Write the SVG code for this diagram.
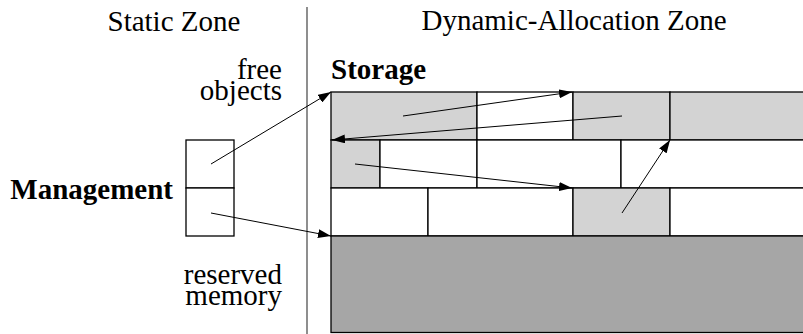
<svg xmlns="http://www.w3.org/2000/svg" width="803" height="334" viewBox="0 0 803 334">
  <style>
    text { font-family: 'Liberation Serif', 'Times New Roman', Times, serif; font-size: 29px; fill: #000; }
    .b { font-weight: bold; }
    .cell { stroke: #000; stroke-width: 1.3; }
    .light { fill: #d3d3d3; }
    .white { fill: #fff; }
    .dark { fill: #a6a6a6; }
    .conn { stroke: #000; stroke-width: 1; fill: none; marker-end: url(#head); }
  </style>
  <defs>
    <marker id="head" markerUnits="userSpaceOnUse" markerWidth="13" markerHeight="9" refX="13" refY="4.5" orient="auto">
      <path d="M0,0 L13,4.5 L0,9 Z" fill="#000"/>
    </marker>
  </defs>
  <rect width="803" height="334" fill="#fff"/>

  <!-- zone titles and separator -->
  <g id="zones">
    <text x="107.5" y="31">Static Zone</text>
    <text x="421.5" y="30">Dynamic-Allocation Zone</text>
    <line x1="307" y1="7" x2="307" y2="334" stroke="#444" stroke-width="1.2"/>
  </g>

  <!-- management block in the static zone -->
  <g id="management">
    <text class="b" x="173" y="198.5" text-anchor="end">Management</text>
    <rect class="cell white" x="186" y="140" width="48" height="48"/>
    <rect class="cell white" x="186" y="188" width="48" height="48"/>
  </g>

  <g id="label-free">
    <text text-anchor="end"><tspan x="282" y="78.5">free</tspan><tspan x="282" y="100">objects</tspan></text>
  </g>

  <g id="label-reserved">
    <text text-anchor="end"><tspan x="282" y="283.5">reserved</tspan><tspan x="282" y="305">memory</tspan></text>
  </g>

  <!-- storage area: three rows of blocks above the reserved region -->
  <g id="storage">
    <text class="b" x="331" y="78.5">Storage</text>
    <!-- row 1 -->
    <rect class="cell light" x="331" y="92" width="146" height="48"/>
    <rect class="cell white" x="477" y="92" width="96" height="48"/>
    <rect class="cell light" x="573" y="92" width="97" height="48"/>
    <rect class="cell light" x="670" y="92" width="145" height="48"/>
    <!-- row 2 -->
    <rect class="cell light" x="331" y="140" width="49" height="48"/>
    <rect class="cell white" x="380" y="140" width="97" height="48"/>
    <rect class="cell white" x="477" y="140" width="144" height="48"/>
    <rect class="cell white" x="621" y="140" width="194" height="48"/>
    <!-- row 3 -->
    <rect class="cell white" x="331" y="188" width="97" height="48"/>
    <rect class="cell white" x="428" y="188" width="145" height="48"/>
    <rect class="cell light" x="573" y="188" width="97" height="48"/>
    <rect class="cell white" x="670" y="188" width="145" height="48"/>
  </g>

  <g id="reserved-memory">
    <rect class="cell dark" x="331" y="236" width="484" height="96.5"/>
  </g>

  <!-- pointer connectors -->
  <g id="connectors">
    <line class="conn" x1="211" y1="164" x2="331" y2="92"/>
    <line class="conn" x1="211" y1="213" x2="331" y2="236"/>
    <line class="conn" x1="403" y1="116" x2="572" y2="92"/>
    <line class="conn" x1="622" y1="116" x2="332" y2="140"/>
    <line class="conn" x1="355" y1="164" x2="572" y2="188"/>
    <line class="conn" x1="622" y1="213" x2="670" y2="140"/>
  </g>
</svg>
